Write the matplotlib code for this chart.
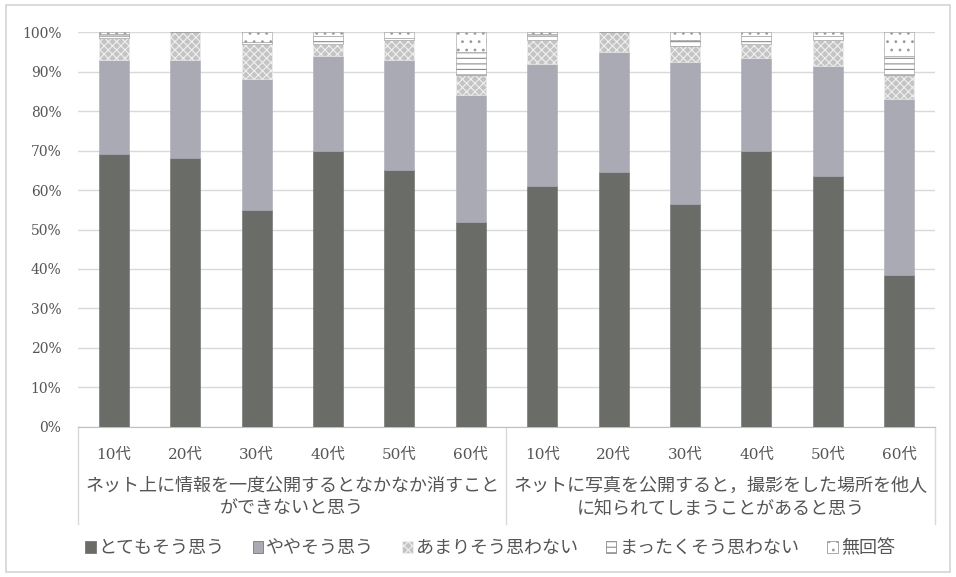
import matplotlib
matplotlib.use("Agg")
import matplotlib.pyplot as plt
from matplotlib.patches import Patch, Rectangle
from matplotlib.transforms import blended_transform_factory
import numpy as np

plt.rcParams['font.family'] = ['Noto Sans CJK JP', 'DejaVu Sans']
plt.rcParams['hatch.linewidth'] = 0.8

# age groups repeated for the two questions
ages = ["10代", "20代", "30代", "40代", "50代", "60代"]
questions = ["ネット上に情報を一度公開するとなかなか消すこと\nができないと思う",
             "ネットに写真を公開すると，撮影をした場所を他人\nに知られてしまうことがあると思う"]
answers = ["とてもそう思う", "ややそう思う", "あまりそう思わない", "まったくそう思わない", "無回答"]

# percentages, question 1 ages then question 2 ages
totemo   = [69.0, 68.0, 55.0, 70.0, 65.0, 52.0,   61.0, 64.5, 56.5, 70.0, 63.5, 38.5]
yaya     = [24.0, 25.0, 33.0, 24.0, 28.0, 32.0,   31.0, 30.5, 36.0, 23.5, 28.0, 44.5]
amari    = [5.5,  7.0,  9.0,  3.0,  5.0,  5.0,    6.0,  5.0,  4.0,  3.5,  6.5,  6.0]
mattaku  = [1.0,  0.0,  0.5,  2.0,  0.5,  6.0,    1.5,  0.0,  1.5,  2.0,  1.0,  5.0]
mukaitou = [0.5,  0.0,  2.5,  1.0,  1.5,  5.0,    0.5,  0.0,  2.0,  1.0,  1.0,  6.0]

series = [totemo, yaya, amari, mattaku, mukaitou]
faces = ['#6a6c68', '#aaaab4', '#c4c4c4', '#ffffff', '#ffffff']
edges = ['#6a6c68', '#aaaab4', '#f0f0f0', '#8c8c8c', '#9a9a9a']
hatches = [None, None, 'xxxx', '---', '..']

fig = plt.figure(figsize=(9.56, 5.77), dpi=100)
fig.patches.append(Rectangle((0.006, 0.008), 0.988, 0.984, transform=fig.transFigure,
                             fill=False, edgecolor='#d4d4d4', linewidth=1.2))
ax = fig.add_axes([0.0816, 0.26, 0.8964, 0.6845])

x = np.arange(len(totemo))
bottom = np.zeros(len(x))
for vals, fc, ec, h in zip(series, faces, edges, hatches):
    ax.bar(x, vals, width=0.42, bottom=bottom, color=fc, edgecolor=ec,
           hatch=h, linewidth=0.4, zorder=3)
    bottom += np.array(vals)

ax.set_xlim(-0.5, len(x) - 0.5)
ax.set_ylim(0, 100)
ax.set_yticks(np.arange(0, 101, 10))
ax.set_yticklabels([f"{v}%" for v in range(0, 101, 10)],
                   family=['DejaVu Serif'], fontsize=10, color='#555555')
ax.yaxis.grid(True, color='#d9d9d9', linewidth=1, zorder=0)
ax.tick_params(axis='y', length=0, pad=12)
ax.set_xticks(x)
ax.set_xticklabels(ages * 2, family=['DejaVu Serif', 'Noto Sans CJK JP'],
                   fontsize=11, color='#555555')
ax.tick_params(axis='x', length=0, pad=15)
for side in ['top', 'right', 'left']:
    ax.spines[side].set_visible(False)
ax.spines['bottom'].set_color('#bfbfbf')

# question labels and separators under the age labels
trans = blended_transform_factory(ax.transData, ax.transAxes)
for i, q in enumerate(questions):
    ax.text(i * 6 + 2.5, -0.127, q, transform=trans, ha='center', va='top',
            fontsize=13, color='#555555', linespacing=1.3)
for xs in [-0.5, 5.5, 11.5]:
    ax.plot([xs, xs], [0, -0.245], transform=trans, color='#d9d9d9',
            linewidth=1, clip_on=False)

handles = [Patch(facecolor=fc, edgecolor=ec if h else '#777777', hatch=h, linewidth=0.6)
           for fc, ec, h in zip(faces, edges, hatches)]
fig.legend(handles, answers, loc='center left', bbox_to_anchor=(0.072, 0.05),
           ncol=5, frameon=False, fontsize=13, handlelength=0.6, handleheight=0.6,
           handletextpad=0.15, columnspacing=1.55, labelcolor='#555555')

fig.savefig("out.png", dpi=100)
